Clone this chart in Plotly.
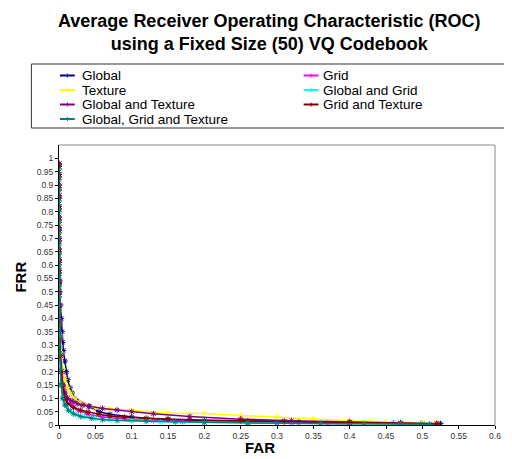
import plotly.graph_objects as go

# ---- data (FAR on x, FRR on y) ----
global_far = [0.000,0.000,0.000,0.000,0.000,0.000,0.000,0.000,0.000,0.000,0.000,0.001,0.001,0.002,0.003,0.004,0.005,0.006,0.008,0.010,0.012,0.015,0.018,0.021,0.025,0.030,0.035,0.041,0.055,0.07,0.10,0.15,0.20,0.26,0.31,0.33,0.40,0.46,0.50,0.525]
global_frr = [0.98,0.94,0.90,0.86,0.82,0.78,0.74,0.70,0.66,0.62,0.58,0.54,0.50,0.45,0.40,0.35,0.31,0.28,0.24,0.20,0.17,0.14,0.12,0.10,0.09,0.08,0.075,0.07,0.05,0.04,0.03,0.02,0.016,0.015,0.014,0.011,0.009,0.007,0.006,0.005]

grid_far = [0.000,0.000,0.000,0.000,0.000,0.000,0.000,0.000,0.000,0.000,0.000,0.000,0.000,0.000,0.001,0.001,0.002,0.003,0.005,0.008,0.012,0.018,0.027,0.04,0.06,0.08,0.10,0.13,0.17,0.20,0.26,0.32,0.37,0.40]
grid_frr = [0.97,0.93,0.89,0.85,0.81,0.77,0.73,0.69,0.65,0.61,0.57,0.53,0.49,0.44,0.39,0.34,0.29,0.24,0.19,0.14,0.10,0.075,0.055,0.04,0.03,0.025,0.02,0.017,0.013,0.011,0.009,0.008,0.006,0.005]

texture_far = [0.000,0.000,0.000,0.000,0.000,0.000,0.000,0.000,0.000,0.000,0.000,0.000,0.000,0.001,0.001,0.002,0.003,0.005,0.008,0.012,0.016,0.021,0.028,0.035,0.05,0.07,0.10,0.15,0.20,0.25,0.30,0.35,0.40,0.45,0.50,0.52]
texture_frr = [0.96,0.92,0.88,0.84,0.80,0.76,0.72,0.68,0.64,0.60,0.56,0.52,0.48,0.43,0.38,0.33,0.27,0.21,0.17,0.14,0.12,0.10,0.085,0.075,0.065,0.06,0.055,0.045,0.043,0.036,0.029,0.022,0.016,0.012,0.009,0.007]

gandg_far = [0.000,0.000,0.000,0.000,0.000,0.000,0.000,0.000,0.000,0.000,0.000,0.000,0.000,0.000,0.000,0.001,0.001,0.002,0.003,0.006,0.010,0.016,0.025,0.035,0.05,0.07,0.10,0.14,0.20,0.26,0.32,0.40,0.46,0.50]
gandg_frr = [0.97,0.93,0.89,0.85,0.81,0.77,0.73,0.69,0.65,0.61,0.57,0.53,0.49,0.44,0.39,0.34,0.29,0.23,0.16,0.10,0.07,0.05,0.038,0.03,0.024,0.02,0.016,0.012,0.009,0.007,0.006,0.005,0.004,0.003]

gandt_far = [0.000,0.000,0.000,0.000,0.000,0.000,0.000,0.000,0.000,0.000,0.000,0.000,0.000,0.000,0.001,0.001,0.002,0.003,0.005,0.008,0.012,0.018,0.025,0.033,0.042,0.06,0.08,0.10,0.13,0.18,0.25,0.32,0.40,0.47,0.52]
gandt_frr = [0.98,0.94,0.90,0.86,0.82,0.78,0.74,0.70,0.66,0.62,0.58,0.54,0.50,0.45,0.39,0.33,0.26,0.20,0.15,0.12,0.10,0.09,0.08,0.075,0.07,0.062,0.056,0.05,0.042,0.032,0.022,0.016,0.012,0.008,0.005]

grandt_far = [0.000,0.000,0.000,0.000,0.000,0.000,0.000,0.000,0.000,0.000,0.000,0.000,0.000,0.000,0.001,0.001,0.002,0.003,0.005,0.008,0.012,0.02,0.03,0.04,0.055,0.07,0.09,0.12,0.15,0.18,0.25,0.31,0.40,0.47,0.52]
grandt_frr = [0.97,0.93,0.89,0.85,0.81,0.77,0.73,0.69,0.65,0.61,0.57,0.53,0.49,0.44,0.38,0.32,0.26,0.20,0.15,0.10,0.08,0.065,0.055,0.048,0.04,0.034,0.029,0.025,0.022,0.02,0.016,0.012,0.009,0.007,0.005]

ggt_far = [0.000,0.000,0.000,0.000,0.000,0.000,0.000,0.000,0.000,0.000,0.000,0.000,0.000,0.000,0.000,0.001,0.001,0.002,0.003,0.005,0.008,0.013,0.02,0.03,0.045,0.06,0.08,0.12,0.16,0.20,0.26,0.30,0.36,0.42,0.47,0.51]
ggt_frr = [0.96,0.92,0.88,0.84,0.80,0.76,0.72,0.68,0.64,0.60,0.56,0.52,0.48,0.43,0.38,0.33,0.27,0.21,0.15,0.10,0.075,0.055,0.042,0.032,0.025,0.02,0.017,0.014,0.012,0.01,0.008,0.007,0.006,0.005,0.004,0.003]

series_names = ["Global", "Grid", "Texture", "Global and Grid",
                "Global and Texture", "Grid and Texture", "Global, Grid and Texture"]
series_far = [global_far, grid_far, texture_far, gandg_far, gandt_far, grandt_far, ggt_far]
series_frr = [global_frr, grid_frr, texture_frr, gandg_frr, gandt_frr, grandt_frr, ggt_frr]
series_colors = ["#000080", "#FF00FF", "#FFFF00", "#00FFFF", "#800080", "#800000", "#008080"]

# ---- layout geometry ----
# the page body has an 8px margin, so the figure is 8px smaller than the window
W, H = 504, 451
L, R, T, B = 51, 11, 137, 34
PW, PH = W - L - R, H - T - B   # 442 x 280


# helpers that map reference-window pixel positions to paper coords
def px(x):
    return (x - 59) / PW


def py(y):
    return (425 - y) / PH


fig = go.Figure()
for name, x, y, c in zip(series_names, series_far, series_frr, series_colors):
    fig.add_trace(go.Scatter(
        x=x, y=y, name=name, mode="lines+markers", showlegend=False,
        line=dict(color=c, width=1.5),
        marker=dict(symbol="asterisk-open", size=5, color=c, line=dict(color=c, width=1)),
    ))

# legend (two columns, row-major order as in the reference)
legend_cols = [(60, 80), (307, 325)]
legend_rows = [75.5, 90, 104.5, 119]
shapes = [
    dict(type="rect", xref="paper", yref="paper", x0=px(31), x1=px(520), y0=py(128), y1=py(64),
         line=dict(color="#333333", width=1), fillcolor="rgba(0,0,0,0)"),
    dict(type="line", xref="paper", yref="paper", x0=0, x1=1, y0=1, y1=1,
         line=dict(color="#888888", width=1)),
    dict(type="line", xref="paper", yref="paper", x0=1, x1=1, y0=0, y1=1,
         line=dict(color="#888888", width=1)),
]
annotations = []
for i, (name, c) in enumerate(zip(series_names, series_colors)):
    col = i % 2
    row = i // 2
    kx0, tx = legend_cols[col]
    yy = legend_rows[row]
    shapes.append(dict(type="line", xref="paper", yref="paper",
                       x0=px(kx0), x1=px(kx0 + 15), y0=py(yy), y1=py(yy),
                       line=dict(color=c, width=2)))
    shapes.append(dict(type="line", xref="paper", yref="paper",
                       x0=px(kx0 + 7.5), x1=px(kx0 + 7.5), y0=py(yy - 2), y1=py(yy + 2),
                       line=dict(color=c, width=1)))
    annotations.append(dict(text=name, xref="paper", yref="paper", x=px(tx), y=py(yy),
                            xanchor="left", yanchor="middle", showarrow=False,
                            font=dict(size=13.5, color="black")))

annotations.append(dict(
    text="<b>Average Receiver Operating Characteristic (ROC)<br>using a Fixed Size (50) VQ Codebook</b>",
    xref="paper", yref="paper", x=px(272), y=py(32.5), xanchor="center", yanchor="middle",
    showarrow=False, font=dict(size=18, color="black")))
annotations.append(dict(text="<b>FAR</b>", xref="paper", yref="paper", x=px(263), y=py(447),
                        xanchor="center", yanchor="middle", showarrow=False,
                        font=dict(size=15, color="black")))
annotations.append(dict(text="<b>FRR</b>", xref="paper", yref="paper", x=px(19), y=py(277),
                        xanchor="center", yanchor="middle", showarrow=False, textangle=-90,
                        font=dict(size=15, color="black")))

fig.update_layout(
    width=W, height=H,
    margin=dict(l=L, r=R, t=T, b=B),
    paper_bgcolor="white", plot_bgcolor="white",
    font=dict(family="Arial, Liberation Sans, sans-serif", color="black"),
    showlegend=False,
    shapes=shapes,
    annotations=annotations,
)

fig.update_xaxes(
    range=[0, 0.6], dtick=0.05, tick0=0, showgrid=False, zeroline=False,
    showline=True, linecolor="black", linewidth=1,
    ticks="outside", ticklen=3, tickcolor="black",
    tickfont=dict(size=8.5, color="#333333"),
)
fig.update_yaxes(
    range=[0, 1.05], tickvals=[i * 0.05 for i in range(21)],
    ticktext=[("%g" % round(i * 0.05, 2)) for i in range(21)],
    showgrid=False, zeroline=False,
    showline=True, linecolor="black", linewidth=1,
    ticks="outside", ticklen=3, tickcolor="black",
    tickfont=dict(size=8.5, color="#333333"),
)

fig.write_html("out.html")
